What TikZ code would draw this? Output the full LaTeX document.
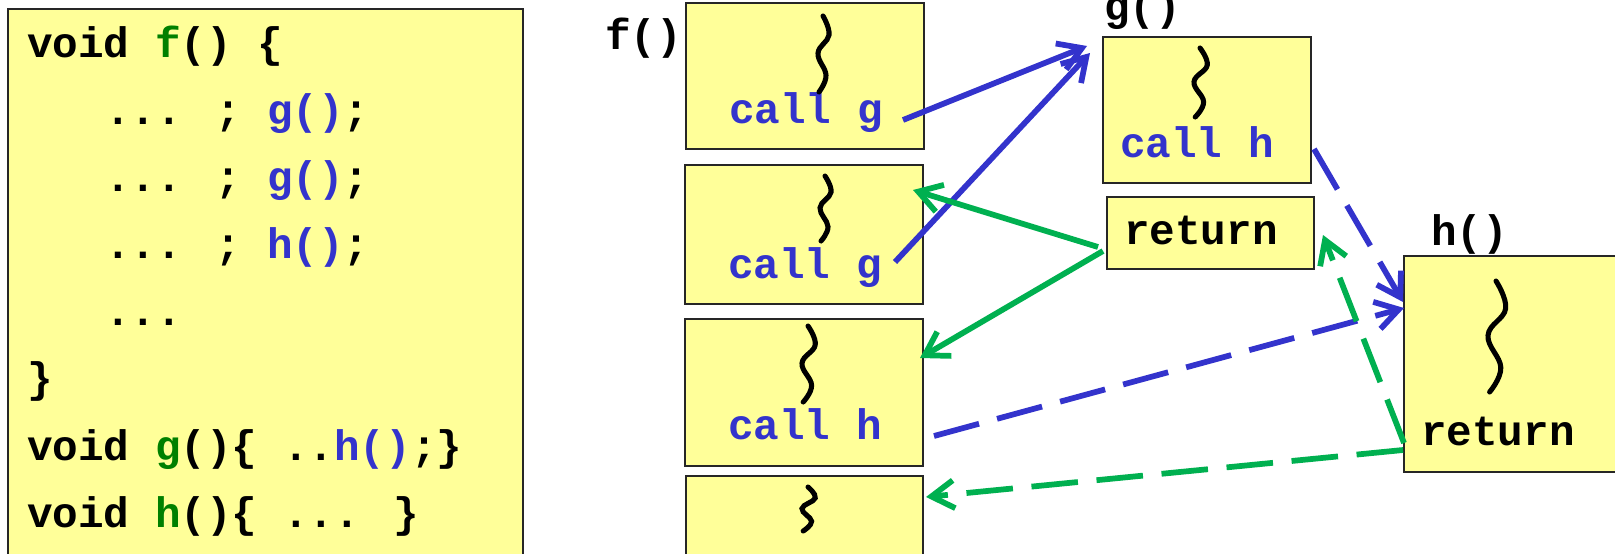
\documentclass[tikz,border=0pt]{standalone}
\usepackage{fontspec}
\newfontfamily\codefont{Liberation Mono}
\usetikzlibrary{arrows.meta,calc}
\definecolor{codeblue}{RGB}{51,51,204}
\definecolor{codegreen}{RGB}{0,128,0}
\definecolor{argreen}{RGB}{0,176,80}
\definecolor{boxyellow}{RGB}{255,255,153}
\newcommand\squig[5]{\draw[squigline, shift={(#1,#2)}, yscale=#3, xscale=#4] plot[smooth,tension=0.7] coordinates {(0,0) (6,0.25) (-5,0.49) (3,0.78) (-4,1)};}
\begin{document}
\begin{tikzpicture}[x=0.75pt,y=-0.75pt,
  box/.style={draw=black!85, line width=1.1pt, fill=boxyellow, inner sep=0pt, outer sep=0pt, anchor=north west},
  code/.style={anchor=base west, inner sep=0pt, outer sep=0pt, font=\codefont\bfseries\fontsize{32}{36}\selectfont},
  squigline/.style={draw=black, line width=3.8pt, line cap=round},
  arrbase/.style={line width=4.3pt, -{Straight Barb[length=17pt,width=21pt]}},
  bluesolid/.style={arrbase, draw=codeblue},
  greensolid/.style={arrbase, draw=argreen},
  bluedash/.style={arrbase, draw=codeblue, dash pattern=on 35pt off 14pt},
  greendash/.style={arrbase, draw=argreen, dash pattern=on 35pt off 14pt}
]
\clip (0,0) rectangle (1615,553);

% code box
\node[box, minimum width=515*0.75pt, minimum height=570*0.75pt] (code) at (8,9) {};
\node[code] (l1) at (27,57)  {void {\color{codegreen}f}() \{};
\node[code] (l2) at (105,124) {... ; {\color{codeblue}g()};};
\node[code] (l3) at (105,191) {... ; {\color{codeblue}g()};};
\node[code] (l4) at (105,258) {... ; {\color{codeblue}h()};};
\node[code] (l5) at (105,325) {...};
\node[code] (l6) at (27,392) {\}};
\node[code] (l7) at (27,460) {void {\color{codegreen}g}()\{ ..{\color{codeblue}h()};\}};
\node[code] (l8) at (27,527) {void {\color{codegreen}h}()\{ ... \}};

% f() frames
\node[code] (flab) at (605,49) {f()};
\node[box, minimum width=238*0.75pt, minimum height=146*0.75pt] (f1) at (686,3) {};
\node[box, minimum width=238*0.75pt, minimum height=139*0.75pt] (f2) at (685,165) {};
\node[box, minimum width=238*0.75pt, minimum height=147*0.75pt] (f3) at (685,319) {};
\node[box, minimum width=237*0.75pt, minimum height=130*0.75pt] (f4) at (686,476) {};
\node[code, text=codeblue] (cg1) at (729,123) {call g};
\node[code, text=codeblue] (cg2) at (728,278) {call g};
\node[code, text=codeblue] (ch3) at (728,439) {call h};

% g() frame
\node[code] (glab) at (1104,20) {g()};
\node[box, minimum width=208*0.75pt, minimum height=146*0.75pt] (g1) at (1103,37) {};
\node[code, text=codeblue] (chg) at (1120,157) {call h};
\node[box, minimum width=207*0.75pt, minimum height=72*0.75pt] (gret) at (1107,197) {};
\node[code] (retg) at (1124,244) {return};

% h() frame
\node[code] (hlab) at (1431,245) {h()};
\node[box, minimum width=240*0.75pt, minimum height=216*0.75pt] (h1) at (1404,256) {};
\node[code] (reth) at (1421,445) {return};

% squiggles
\squig{823}{16}{76}{1}{}
\squig{825}{176}{65}{1}{}
\squig{808}{326}{76}{1.2}{}
\squig{808}{487}{44}{1.2}{}
\squig{1200}{48}{69}{1.2}{}
\squig{1496}{281}{111}{1.6}{}

% calls
\draw[bluesolid] ($(f1.south east)+(-21,-29)$) -- ($(g1.north west)+(-16,9)$);
\draw[bluesolid] ($(f2.south east)+(-28,-42)$) -- ($(g1.north west)+(-13,16)$);
\draw[bluedash] ($(g1.south east)+(3,-34)$) -- ($(h1.north west)+(-1,46)$);
\draw[bluedash] ($(f3.south east)+(11,-30)$) -- ($(h1.north west)+(0,52)$);
% returns
\draw[greensolid] ($(gret.south west)+(-9,-22)$) -- ($(f2.north east)+(-10,25)$);
\draw[greensolid] ($(gret.south west)+(-4,-18)$) -- ($(f3.north east)+(-3,39)$);
\draw[greendash] ($(h1.south west)+(0,-29)$) -- ($(gret.east)+(9,2)$);
\draw[greendash] ($(h1.south west)+(-1,-22)$) -- ($(f4.north east)+(3,21)$);
\end{tikzpicture}
\end{document}
